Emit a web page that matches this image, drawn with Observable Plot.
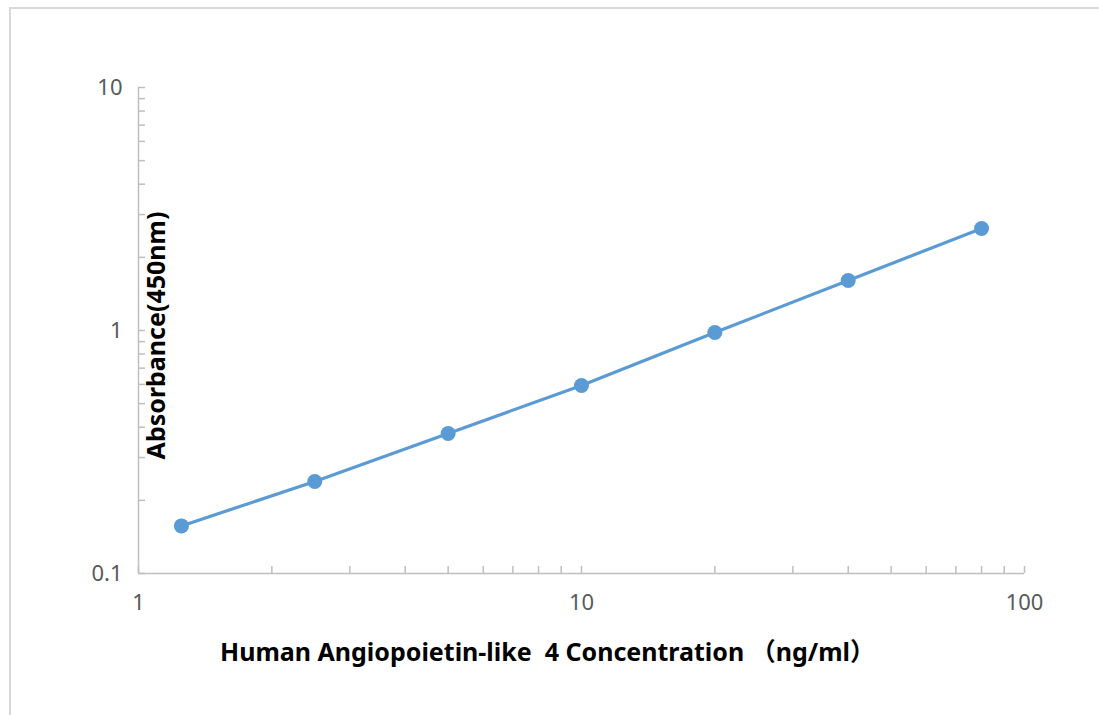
<!DOCTYPE html>
<html>
<head>
<meta charset="utf-8">
<script src="https://cdn.jsdelivr.net/npm/d3@7"></script>
<script src="https://cdn.jsdelivr.net/npm/@observablehq/plot@0.6"></script>
<style>
  html, body { margin: 0; padding: 0; background: #fff; overflow: hidden; width: 1099px; height: 715px; }
  #frame { position: absolute; left: 9px; top: 7px; width: 1200px; height: 800px; border: 2px solid #d9d9d9; box-sizing: border-box; }
  #chart { position: absolute; left: 0; top: 0; }
</style>
</head>
<body>
<div id="frame"></div>
<div id="chart"></div>
<script>
// Data
const concentration = [1.25, 2.5, 5, 10, 20, 40, 80];
const absorbance = [0.157, 0.239, 0.377, 0.594, 0.981, 1.606, 2.63];
const xTickLabels = [1, 10, 100];
const yTickLabels = [0.1, 1, 10];
const xMinorTicks = [1,2,3,4,5,6,7,8,9,10,20,30,40,50,60,70,80,90,100];
const yMinorTicks = [0.1,0.2,0.3,0.4,0.5,0.6,0.7,0.8,0.9,1,2,3,4,5,6,7,8,9,10];
const xTitle = "Human Angiopoietin-like  4 Concentration \uFF08ng/ml\uFF09";
const yTitle = "Absorbance(450nm)";

const data = concentration.map((c, i) => ({c, a: absorbance[i]}));

const W = 1099, H = 715;
const mL = 138, mR = 75, mT = 87, mB = 142;
const plotW = W - mL - mR, plotH = H - mT - mB;
const axisColor = "#bfbfbf";
const lineColor = "#5b9bd5";
const font = "'Noto Sans', 'Noto Sans CJK SC', sans-serif";

const chart = Plot.plot({
  width: W, height: H,
  marginLeft: mL, marginRight: mR, marginTop: mT, marginBottom: mB,
  style: {fontFamily: font, background: "transparent", overflow: "visible"},
  x: {type: "log", domain: [1, 100], axis: null},
  y: {type: "log", domain: [0.1, 10], axis: null},
  marks: [
    Plot.ruleX([1], {stroke: axisColor, strokeWidth: 1.5}),
    Plot.ruleY([0.1], {stroke: axisColor, strokeWidth: 1.5}),
    Plot.tickY(yMinorTicks, {y: d => d, stroke: axisColor, strokeWidth: 1.5, insetRight: plotW - 7}),
    Plot.tickX(xMinorTicks, {x: d => d, stroke: axisColor, strokeWidth: 1.5, insetTop: plotH - 7}),
    Plot.axisY(yTickLabels, {tickSize: 0, tickPadding: 16, tickFormat: d => String(d), fontSize: 22, fill: "#595959", label: null}),
    Plot.axisX(xTickLabels, {tickSize: 0, tickPadding: 21, tickFormat: d => String(d), fontSize: 22, fill: "#595959", label: null}),
    Plot.line(data, {x: "c", y: "a", stroke: lineColor, strokeWidth: 3.2}),
    Plot.dot(data, {x: "c", y: "a", r: 7.5, fill: lineColor, stroke: "none"}),
    Plot.text([yTitle], {frameAnchor: "left", textAnchor: "middle", lineAnchor: "middle", rotate: -90, dx: 18, dy: 5, fontSize: 25, fontWeight: "bold", fill: "#000"}),
    Plot.text([xTitle], {frameAnchor: "bottom", textAnchor: "middle", lineAnchor: "middle", dx: -34, dy: 79, fontSize: 25, fontWeight: "bold", fill: "#000"})
  ]
});
document.getElementById("chart").appendChild(chart);
</script>
</body>
</html>
